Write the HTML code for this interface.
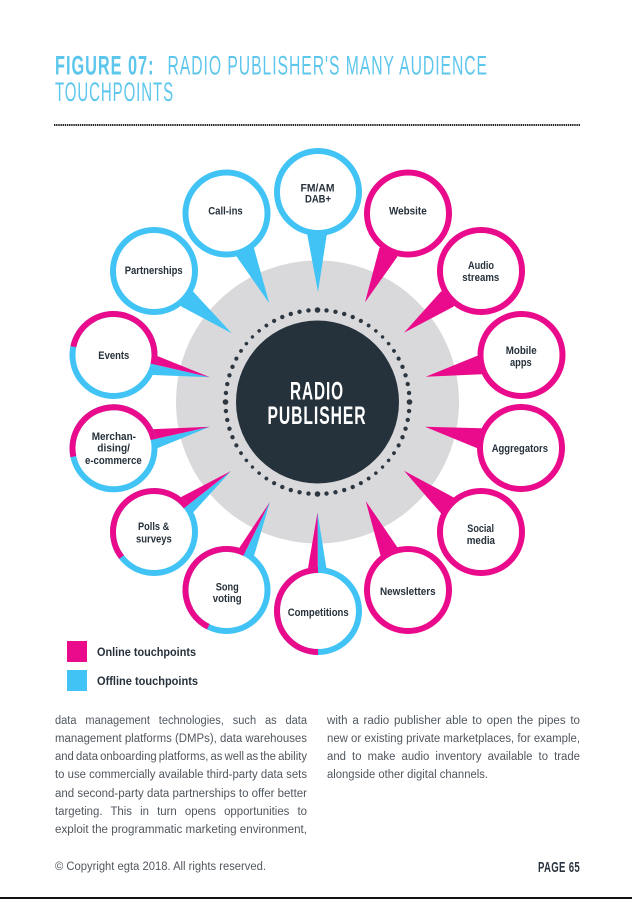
<!DOCTYPE html>
<html><head><meta charset="utf-8"><title>Figure 07</title>
<style>
html,body{margin:0;padding:0;background:#fff}
svg{display:block}
text{font-family:"Liberation Sans",sans-serif}
.l{font-size:11px;font-weight:700;fill:#26313b}
.b{font-size:11.5px;fill:#50575e}
.t{font-size:26.6px;fill:#5cc6ec;letter-spacing:1.6px}
.c{font-size:25.4px;font-weight:700;fill:#fff;letter-spacing:1.5px}
</style></head><body>
<svg width="632" height="899" viewBox="0 0 632 899" xmlns="http://www.w3.org/2000/svg">
<rect width="632" height="899" fill="#fff"/>
<text class="t" x="55" y="74.5" font-weight="700" textLength="99.5" lengthAdjust="spacingAndGlyphs">FIGURE 07:</text>
<text class="t" x="167.5" y="74.5" textLength="320.5" lengthAdjust="spacingAndGlyphs">RADIO PUBLISHER'S MANY AUDIENCE</text>
<text class="t" x="55" y="101" textLength="119" lengthAdjust="spacingAndGlyphs">TOUCHPOINTS</text>
<line x1="54" y1="125" x2="580" y2="125" stroke="#222" stroke-width="2" stroke-dasharray="1.4 0.75"/>

<circle cx="317.5" cy="402" r="141.5" fill="#d9d9db"/>
<circle cx="317.5" cy="402" r="81.5" fill="#25323c"/>
<g fill="#2c3640" transform="translate(317.5 402)">
<g id="q">
<circle cx="92" cy="0" r="2.8"/>
<circle cx="92" cy="0" r="2.2" transform="rotate(5.625)"/>
<circle cx="92" cy="0" r="2.2" transform="rotate(11.25)"/>
<circle cx="92" cy="0" r="2.2" transform="rotate(16.875)"/>
<circle cx="92" cy="0" r="2.2" transform="rotate(22.5)"/>
<circle cx="92" cy="0" r="2.1" transform="rotate(28.125)"/>
<circle cx="92" cy="0" r="1.9" transform="rotate(33.75)"/>
<circle cx="92" cy="0" r="1.8" transform="rotate(39.375)"/>
<circle cx="92" cy="0" r="1.7" transform="rotate(45)"/>
<circle cx="92" cy="0" r="1.8" transform="rotate(50.625)"/>
<circle cx="92" cy="0" r="1.9" transform="rotate(56.25)"/>
<circle cx="92" cy="0" r="2.1" transform="rotate(61.875)"/>
<circle cx="92" cy="0" r="2.2" transform="rotate(67.5)"/>
<circle cx="92" cy="0" r="2.2" transform="rotate(73.125)"/>
<circle cx="92" cy="0" r="2.2" transform="rotate(78.75)"/>
<circle cx="92" cy="0" r="2.2" transform="rotate(84.375)"/>
</g>
<use href="#q" transform="rotate(90)"/>
<use href="#q" transform="rotate(180)"/>
<use href="#q" transform="rotate(270)"/>
</g>
<text class="c" x="290" y="399.7" textLength="54" lengthAdjust="spacingAndGlyphs">RADIO</text>
<text class="c" x="267.5" y="424" textLength="99" lengthAdjust="spacingAndGlyphs">PUBLISHER</text>

<!-- pointers -->
<g fill="#41c4f5">
<polygon points="318,292 307.3,235 318,192 326.7,235"/>
<polygon points="269.3,303.3 236.7,256.7 226.5,213.5 254,248.3"/>
<polygon points="231.7,333.3 181.7,306.7 154,271 193.3,291.7"/>
<polygon points="210,377.3 153.3,375 113.5,355"/>
<polygon points="210,426.7 157.3,448.3 113.5,448.3"/>
<polygon points="231,471 193.3,512.3 154,532"/>
<polygon points="270,501.7 254,556 226.5,590"/>
<polygon points="317.5,512.3 326.7,570 318,611"/>
</g>
<g fill="#ea0a8c">
<polygon points="210,377.3 157.3,356 113.5,355"/>
<polygon points="210,426.7 151,429.3 113.5,448.3"/>
<polygon points="231,471 180.7,497.3 154,532"/>
<polygon points="270,501.7 236.7,551.7 226.5,590"/>
<polygon points="317.5,512.3 307.7,570 318,611"/>
<polygon points="365,302.3 379.3,248.3 408,213.5 397.3,256.7"/>
<polygon points="404,332.7 440.7,291.7 481,271 453.3,306.7"/>
<polygon points="425.7,376.7 476.7,356 521.5,355 481.7,374.3"/>
<polygon points="425,426.7 481.7,428.3 521,448 477.3,448.3"/>
<polygon points="404,470.7 453.3,497.3 481,532 441,513.3"/>
<polygon points="365.7,501 397.7,547.7 408,590 380.7,556"/>
</g>

<!-- rings -->
<g fill="#fff" stroke-width="6">
<g stroke="#41c4f5">
<circle cx="318" cy="192" r="41"/>
<circle cx="226.5" cy="213.5" r="41"/>
<circle cx="154" cy="271" r="41"/>
<circle cx="113.5" cy="355" r="41"/>
<circle cx="113.5" cy="448.3" r="41"/>
<circle cx="154" cy="532" r="41"/>
<circle cx="226.5" cy="590" r="41"/>
<circle cx="318" cy="611" r="41"/>
</g>
<g stroke="#ea0a8c">
<circle cx="408" cy="213.5" r="41"/>
<circle cx="481" cy="271" r="41"/>
<circle cx="521.5" cy="355" r="41"/>
<circle cx="521" cy="448" r="41"/>
<circle cx="481" cy="532" r="41"/>
<circle cx="408" cy="590" r="41"/>
</g>
<g stroke="#ea0a8c" fill="none">
<circle cx="113.5" cy="355" r="41" pathLength="360" stroke-dasharray="181.3 178.7" transform="rotate(-168.3 113.5 355)"/>
<circle cx="113.5" cy="448.3" r="41" pathLength="360" stroke-dasharray="179.1 180.9" transform="rotate(168.3 113.5 448.3)"/>
<circle cx="154" cy="532" r="41" pathLength="360" stroke-dasharray="179.3 180.7" transform="rotate(142.3 154 532)"/>
<circle cx="226.5" cy="590" r="41" pathLength="360" stroke-dasharray="179.8 180.2" transform="rotate(116.4 226.5 590)"/>
<circle cx="318" cy="611" r="41" pathLength="360" stroke-dasharray="180 180" transform="rotate(90 318 611)"/>
</g>
</g>

<!-- labels -->
<g>
<text class="l" x="300.5" y="191.7" textLength="34" lengthAdjust="spacingAndGlyphs">FM/AM</text>
<text class="l" x="305" y="202.7" textLength="26" lengthAdjust="spacingAndGlyphs">DAB+</text>
<text class="l" x="208.3" y="214.7" textLength="34.4" lengthAdjust="spacingAndGlyphs">Call-ins</text>
<text class="l" x="124.7" y="274" textLength="58" lengthAdjust="spacingAndGlyphs">Partnerships</text>
<text class="l" x="98.3" y="359" textLength="31" lengthAdjust="spacingAndGlyphs">Events</text>
<text class="l" x="91.7" y="440" textLength="44.3" lengthAdjust="spacingAndGlyphs">Merchan-</text>
<text class="l" x="97.3" y="451.7" textLength="32.7" lengthAdjust="spacingAndGlyphs">dising/</text>
<text class="l" x="85" y="464" textLength="56.7" lengthAdjust="spacingAndGlyphs">e-commerce</text>
<text class="l" x="138" y="530" textLength="31.3" lengthAdjust="spacingAndGlyphs">Polls &amp;</text>
<text class="l" x="136" y="542.5" textLength="35.7" lengthAdjust="spacingAndGlyphs">surveys</text>
<text class="l" x="215.7" y="590.3" textLength="23" lengthAdjust="spacingAndGlyphs">Song</text>
<text class="l" x="212.7" y="602" textLength="29" lengthAdjust="spacingAndGlyphs">voting</text>
<text class="l" x="287.7" y="616" textLength="61" lengthAdjust="spacingAndGlyphs">Competitions</text>
<text class="l" x="380" y="595" textLength="55.7" lengthAdjust="spacingAndGlyphs">Newsletters</text>
<text class="l" x="467.3" y="532" textLength="26.7" lengthAdjust="spacingAndGlyphs">Social</text>
<text class="l" x="466.7" y="544" textLength="28.3" lengthAdjust="spacingAndGlyphs">media</text>
<text class="l" x="491.7" y="452" textLength="56.3" lengthAdjust="spacingAndGlyphs">Aggregators</text>
<text class="l" x="505.7" y="354" textLength="31" lengthAdjust="spacingAndGlyphs">Mobile</text>
<text class="l" x="510" y="366" textLength="21.7" lengthAdjust="spacingAndGlyphs">apps</text>
<text class="l" x="468" y="269" textLength="26" lengthAdjust="spacingAndGlyphs">Audio</text>
<text class="l" x="462.3" y="281" textLength="37" lengthAdjust="spacingAndGlyphs">streams</text>
<text class="l" x="389" y="214.7" textLength="37.7" lengthAdjust="spacingAndGlyphs">Website</text>
</g>

<!-- legend -->
<rect x="67" y="641" width="20" height="21" fill="#ea0a8c"/>
<rect x="67" y="670" width="20" height="21" fill="#41c4f5"/>
<text class="l" x="97" y="656" style="font-size:11.5px" textLength="99" lengthAdjust="spacingAndGlyphs">Online touchpoints</text>
<text class="l" x="97" y="685" style="font-size:11.5px" textLength="101" lengthAdjust="spacingAndGlyphs">Offline touchpoints</text>

<!-- body -->
<text class="b" x="55" y="724" textLength="252" lengthAdjust="spacingAndGlyphs" word-spacing="6">data management technologies, such as data</text>
<text class="b" x="55" y="742" textLength="252" lengthAdjust="spacingAndGlyphs">management platforms (DMPs), data warehouses</text>
<text class="b" x="55" y="760" textLength="252" lengthAdjust="spacingAndGlyphs" word-spacing="-1">and data onboarding platforms, as well as the ability</text>
<text class="b" x="55" y="778" textLength="252" lengthAdjust="spacingAndGlyphs">to use commercially available third-party data sets</text>
<text class="b" x="55" y="797" textLength="252" lengthAdjust="spacingAndGlyphs">and second-party data partnerships to offer better</text>
<text class="b" x="55" y="815" textLength="252" lengthAdjust="spacingAndGlyphs" word-spacing="5">targeting. This in turn opens opportunities to</text>
<text class="b" x="55" y="833" textLength="252" lengthAdjust="spacingAndGlyphs">exploit the programmatic marketing environment,</text>
<text class="b" x="327" y="724" textLength="253" lengthAdjust="spacingAndGlyphs" word-spacing="1.5">with a radio publisher able to open the pipes to</text>
<text class="b" x="327" y="742" textLength="253" lengthAdjust="spacingAndGlyphs">new or existing private marketplaces, for example,</text>
<text class="b" x="327" y="760" textLength="253" lengthAdjust="spacingAndGlyphs" word-spacing="3">and to make audio inventory available to trade</text>
<text class="b" x="327" y="778" textLength="161" lengthAdjust="spacingAndGlyphs">alongside other digital channels.</text>

<text class="b" x="55" y="870" textLength="211" lengthAdjust="spacingAndGlyphs">© Copyright egta 2018. All rights reserved.</text>
<text x="538" y="872" font-size="15" font-weight="700" fill="#2a3540" letter-spacing="0.5" textLength="42" lengthAdjust="spacingAndGlyphs">PAGE 65</text>
<rect x="0" y="897" width="632" height="2" fill="#111"/>
</svg>
</body></html>
